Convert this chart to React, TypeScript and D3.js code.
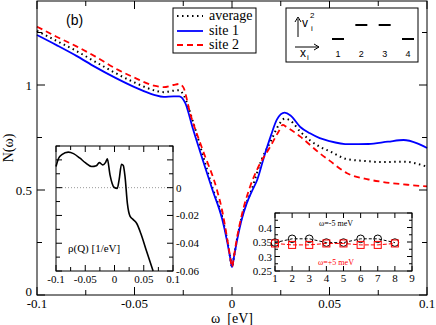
import React from "react";
import * as d3 from "d3";

// Main panel: N(omega), omega in eV
const omegaSite1 = [-0.1, -0.09, -0.08, -0.07, -0.06, -0.05, -0.04, -0.035, -0.03, -0.027, -0.024, -0.02, -0.015, -0.01, -0.005, -0.0025, -0.001, 0, 0.001, 0.0025, 0.005, 0.0075, 0.01, 0.013, 0.0165, 0.02, 0.023, 0.027, 0.03, 0.035, 0.04, 0.045, 0.05, 0.06, 0.07, 0.08, 0.088, 0.095, 0.1];
const nSite1 = [1.238, 1.19, 1.14, 1.085, 1.035, 0.99, 0.953, 0.943, 0.946, 0.946, 0.915, 0.79, 0.643, 0.5, 0.36, 0.255, 0.18, 0.133, 0.18, 0.255, 0.36, 0.435, 0.49, 0.55, 0.66, 0.76, 0.835, 0.868, 0.855, 0.8, 0.77, 0.747, 0.733, 0.718, 0.719, 0.73, 0.738, 0.722, 0.7];

const omegaSite2 = [-0.1, -0.09, -0.08, -0.07, -0.06, -0.05, -0.04, -0.035, -0.03, -0.027, -0.025, -0.0215, -0.015, -0.0077, -0.005, -0.0025, -0.001, 0, 0.001, 0.0025, 0.005, 0.0092, 0.013, 0.0195, 0.024, 0.026, 0.028, 0.035, 0.045, 0.05, 0.059, 0.07, 0.076, 0.09, 0.1];
const nSite2 = [1.278, 1.23, 1.185, 1.135, 1.08, 1.035, 0.997, 0.99, 1.0, 1.005, 0.99, 0.866, 0.69, 0.5, 0.4, 0.27, 0.185, 0.133, 0.185, 0.27, 0.38, 0.514, 0.6, 0.705, 0.78, 0.81, 0.8, 0.754, 0.675, 0.64, 0.58, 0.55, 0.54, 0.525, 0.517];

const omegaAvg = [-0.1, -0.09, -0.08, -0.07, -0.06, -0.05, -0.04, -0.035, -0.03, -0.027, -0.025, -0.02, -0.015, -0.01, -0.005, -0.0025, -0.001, 0, 0.001, 0.0025, 0.005, 0.01, 0.015, 0.02, 0.024, 0.027, 0.03, 0.035, 0.045, 0.05, 0.059, 0.07, 0.076, 0.088, 0.1];
const nAvg = [1.258, 1.21, 1.163, 1.11, 1.058, 1.012, 0.975, 0.966, 0.973, 0.975, 0.955, 0.825, 0.667, 0.51, 0.37, 0.262, 0.183, 0.133, 0.183, 0.262, 0.37, 0.5, 0.64, 0.735, 0.81, 0.84, 0.83, 0.778, 0.706, 0.685, 0.647, 0.637, 0.633, 0.635, 0.611];

// Left inset: rho(Q)
const omegaRho = [-0.1, -0.0955, -0.09, -0.079, -0.07, -0.059, -0.05, -0.039, -0.031, -0.026, -0.02, -0.0155, -0.0123, -0.0077, -0.004, -0.0009, 0.0048, 0.008, 0.012, 0.015, 0.018, 0.022, 0.0265, 0.032, 0.038, 0.045, 0.055, 0.066];
const rhoQ = [0.0152, 0.0212, 0.0238, 0.0256, 0.0245, 0.0212, 0.018, 0.0152, 0.0158, 0.018, 0.0164, 0.018, 0.0207, 0.0092, 0.003, 0.0003, -0.0005, 0.006, 0.0169, 0.016, 0.008, -0.0113, -0.0205, -0.023, -0.0258, -0.033, -0.046, -0.06];

// Right inset: N at omega = -5 / +5 meV per site
const sites = [1, 2, 3, 4, 5, 6, 7, 8];
const nMinus5 = [0.348, 0.361, 0.361, 0.348, 0.348, 0.361, 0.361, 0.348];
const nPlus5 = [0.345, 0.34, 0.34, 0.345, 0.345, 0.34, 0.34, 0.345];

// Sketch inset: v_i^2 level per site
const sketchSites = [1, 2, 3, 4];
const sketchLevel = [1, 2, 2, 1];

const mainXTicks = [-0.1, -0.05, 0, 0.05, 0.1];
const mainXLabels = ["-0.1", "-0.05", "0", "0.05", "0.1"];
const mainYTicks = [0, 0.5, 1];
const mainYLabels = ["0", "0.5", "1"];
const rhoXLabels = ["-0.1", "-0.05", "0", "0.05", "0.1"];
const rhoYTicks = [0, -0.02, -0.04, -0.06];
const rhoYLabels = ["0", "-0.02", "-0.04", "-0.06"];
const smallYTicks = [0.25, 0.3, 0.35, 0.4];
const smallYLabels = ["0.25", "0.3", "0.35", "0.4"];

const SERIF = "'Liberation Serif', 'Times New Roman', serif";
const SANS = "'Liberation Sans', Arial, sans-serif";

type Scale = d3.ScaleLinear<number, number>;

// inward ticks on all four sides of a frame
function frameTicks(sx: Scale, sy: Scale, xMaj: number[], xMin: number[], yMaj: number[], yMin: number[], maj: number, min: number, key: string) {
  const [xl, xr] = sx.range();
  const [yb, yt] = sy.range();
  const out: JSX.Element[] = [];
  const add = (v: number, len: number, axis: "x" | "y", i: string) => {
    if (axis === "x") {
      const p = sx(v);
      out.push(<line key={key + "xb" + i} x1={p} x2={p} y1={yb} y2={yb - len} stroke="#000" />);
      out.push(<line key={key + "xt" + i} x1={p} x2={p} y1={yt} y2={yt + len} stroke="#000" />);
    } else {
      const p = sy(v);
      out.push(<line key={key + "yl" + i} x1={xl} x2={xl + len} y1={p} y2={p} stroke="#000" />);
      out.push(<line key={key + "yr" + i} x1={xr} x2={xr - len} y1={p} y2={p} stroke="#000" />);
    }
  };
  xMaj.forEach((v, i) => add(v, maj, "x", "M" + i));
  xMin.forEach((v, i) => add(v, min, "x", "m" + i));
  yMaj.forEach((v, i) => add(v, maj, "y", "M" + i));
  yMin.forEach((v, i) => add(v, min, "y", "m" + i));
  return out;
}

export default function App() {
  // main panel
  const x = d3.scaleLinear().domain([-0.1, 0.1]).range([37, 427]);
  const y = d3.scaleLinear().domain([0, 1.4]).range([295, 1]);
  const curve = (xs: number[], ys: number[]) =>
    d3.line<number>().x((_, i) => x(xs[i])).y((d) => y(d)).curve(d3.curveMonotoneX)(ys) || "";

  // left inset
  const rx = d3.scaleLinear().domain([-0.1, 0.1]).range([56, 173]);
  const ry = d3.scaleLinear().domain([-0.06, 0.03]).range([271, 146]);
  const rhoPath = d3.line<number>().x((_, i) => rx(omegaRho[i])).y((d) => ry(d)).curve(d3.curveMonotoneX)(rhoQ) || "";

  // right inset
  const sx = d3.scaleLinear().domain([1, 9]).range([275, 412]);
  const sy = d3.scaleLinear().domain([0.25, 0.45]).range([271, 213]);
  const siteLine = (vals: number[]) => d3.line<number>().x((_, i) => sx(sites[i])).y((d) => sy(d))(vals) || "";

  // sketch inset
  const kx = d3.scalePoint<number>().domain(sketchSites).range([338, 408]);
  const ky = d3.scaleLinear().domain([1, 2]).range([39, 25]);

  return (
    <svg width={436} height={325} style={{ position: "absolute", left: 0, top: 0, background: "#fff" }} fontFamily={SERIF}>
      <rect x={0} y={0} width={436} height={325} fill="#fff" />

      {/* curves */}
      <path d={curve(omegaAvg, nAvg)} fill="none" stroke="#000" strokeWidth={2} strokeDasharray="1.5,3.5" />
      <path d={curve(omegaSite1, nSite1)} fill="none" stroke="#0000ff" strokeWidth={1.8} />
      <path d={curve(omegaSite2, nSite2)} fill="none" stroke="#ff0000" strokeWidth={1.8} strokeDasharray="6,4" />

      {/* main frame */}
      <rect x={37} y={1} width={390} height={294} fill="none" stroke="#000" />
      {frameTicks(x, y, mainXTicks, [-0.075, -0.025, 0.025, 0.075], mainYTicks, [0.25, 0.75, 1.25], 8, 5, "main")}
      {mainXTicks.map((t, i) => (
        <text key={"mx" + i} x={x(t)} y={308} fontSize={13} textAnchor="middle">{mainXLabels[i]}</text>
      ))}
      {mainYTicks.map((t, i) => (
        <text key={"my" + i} x={32} y={t === 0 ? y(t) + 1 : y(t) + 5} fontSize={13} textAnchor="end">{mainYLabels[i]}</text>
      ))}
      <text x={232} y={323} fontSize={14} textAnchor="middle">{"ω\u00a0\u00a0[eV]"}</text>
      <text transform="translate(13,148) rotate(-90)" fontSize={14} textAnchor="middle">N(ω)</text>
      <text x={66} y={25} fontSize={14} fontFamily={SANS}>(b)</text>

      {/* legend */}
      <rect x={173} y={8} width={83} height={45} fill="#fff" stroke="#000" />
      <line x1={177} x2={203} y1={16} y2={16} stroke="#000" strokeWidth={2} strokeDasharray="1.5,3.5" />
      <line x1={177} x2={203} y1={31} y2={31} stroke="#0000ff" strokeWidth={1.8} />
      <line x1={177} x2={203} y1={45} y2={45} stroke="#ff0000" strokeWidth={1.8} strokeDasharray="6,4" />
      <text x={209} y={20} fontSize={14}>average</text>
      <text x={209} y={35} fontSize={14}>site 1</text>
      <text x={209} y={49} fontSize={14}>site 2</text>

      {/* sketch inset */}
      <rect x={286} y={8} width={132} height={54} fill="#fff" stroke="#000" />
      <line x1={298} x2={298} y1={37} y2={19} stroke="#000" />
      <path d="M295,22 L298,17 L301,22" fill="none" stroke="#000" />
      <text x={302} y={27} fontSize={12} fontFamily={SANS}>v</text>
      <text x={310} y={18} fontSize={8} fontFamily={SANS}>2</text>
      <text x={311} y={31} fontSize={8} fontFamily={SANS}>i</text>
      <line x1={295} x2={319} y1={47} y2={47} stroke="#000" />
      <path d="M314,44 L319,47 L314,50" fill="none" stroke="#000" />
      <text x={300} y={57} fontSize={12} fontFamily={SANS}>x</text>
      <text x={307} y={60} fontSize={8} fontFamily={SANS}>i</text>
      {sketchSites.map((s, i) => (
        <g key={"sk" + i}>
          <line x1={(kx(s) as number) - 6} x2={(kx(s) as number) + 6} y1={ky(sketchLevel[i])} y2={ky(sketchLevel[i])} stroke="#000" strokeWidth={2} />
          <text x={kx(s) as number} y={57} fontSize={9} fontFamily={SANS} textAnchor="middle">{s}</text>
        </g>
      ))}

      {/* left inset: rho(Q) */}
      <rect x={56} y={146} width={117} height={125} fill="#fff" stroke="#000" />
      <line x1={56} x2={173} y1={ry(0)} y2={ry(0)} stroke="#999" strokeDasharray="1,2" />
      <path d={rhoPath} fill="none" stroke="#000" strokeWidth={1.6} />
      {frameTicks(rx, ry, [-0.1, -0.05, 0, 0.05, 0.1], [-0.075, -0.025, 0.025, 0.075], [0.02, 0, -0.02, -0.04, -0.06], [0.03, 0.01, -0.01, -0.03, -0.05], 6, 4, "rho")}
      {mainXTicks.map((t, i) => (
        <text key={"rx" + i} x={rx(t)} y={283} fontSize={11} textAnchor="middle">{rhoXLabels[i]}</text>
      ))}
      {rhoYTicks.map((t, i) => (
        <text key={"ry" + i} x={176} y={ry(t) + 4} fontSize={11}>{rhoYLabels[i]}</text>
      ))}
      <text x={68} y={252} fontSize={11}>ρ(Q) [1/eV]</text>

      {/* right inset: site resolved */}
      <rect x={275} y={213} width={137} height={58} fill="#fff" stroke="#000" />
      {frameTicks(sx, sy, [1, 2, 3, 4, 5, 6, 7, 8, 9], [], smallYTicks.concat([0.45]), [0.275, 0.325, 0.375, 0.425], 5, 3, "sm")}
      <path d={siteLine(nMinus5)} fill="none" stroke="#000" strokeDasharray="3,2" />
      <path d={siteLine(nPlus5)} fill="none" stroke="#ff0000" strokeDasharray="4,2" />
      {sites.map((s, i) => (
        <g key={"pt" + i}>
          <circle cx={sx(s)} cy={sy(nMinus5[i])} r={3.8} fill="none" stroke="#000" />
          <rect x={sx(s) - 3.5} y={sy(nPlus5[i]) - 3.5} width={7} height={7} fill="none" stroke="#ff0000" />
        </g>
      ))}
      {sites.concat([9]).map((s, i) => (
        <text key={"sxl" + i} x={sx(s)} y={282} fontSize={11} textAnchor="middle">{s}</text>
      ))}
      {smallYTicks.map((t, i) => (
        <text key={"syl" + i} x={272} y={sy(t) + 4} fontSize={11} textAnchor="end">{smallYLabels[i]}</text>
      ))}
      <text x={336} y={226} fontSize={8} textAnchor="middle">ω=-5 meV</text>
      <text x={336} y={265} fontSize={8} textAnchor="middle" fill="#ff0000">ω=+5 meV</text>
    </svg>
  );
}
